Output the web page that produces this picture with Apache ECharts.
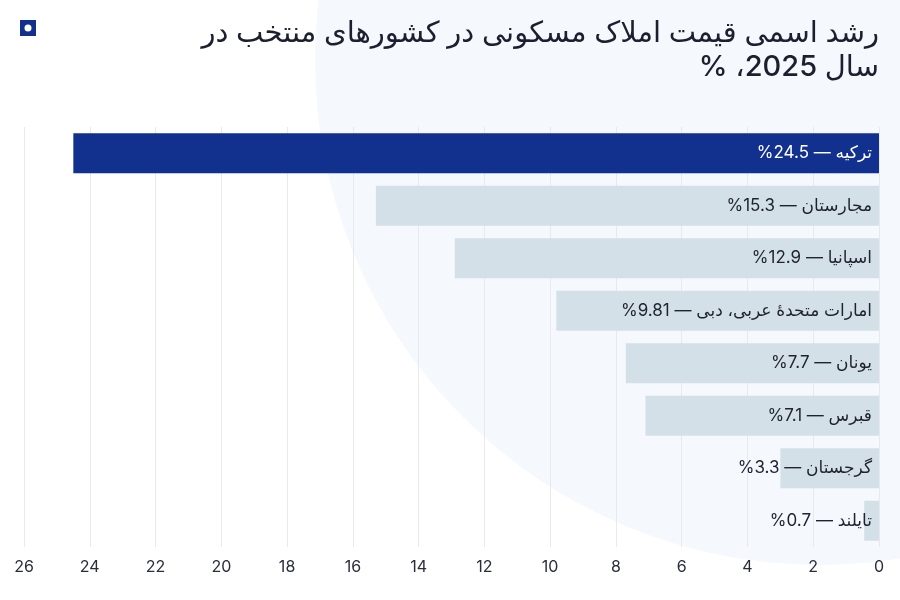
<!DOCTYPE html>
<html>
<head>
<meta charset="utf-8">
<script src="https://cdn.jsdelivr.net/npm/echarts@6/dist/echarts.min.js"></script>
<style>
  html, body { margin: 0; padding: 0; background: #fff; }
  #chart { width: 900px; height: 600px; direction: rtl; }
</style>
</head>
<body>
<div id="chart"></div>
<script>
// کشورها (از بالا به پایین)
const countries = ['ترکیه', 'مجارستان', 'اسپانیا', 'امارات متحدهٔ عربی، دبی', 'یونان', 'قبرس', 'گرجستان', 'تایلند']
// طول میله‌ها، خوانده شده از تصویر
const barValues = [24.5, 15.3, 12.9, 9.81, 7.7, 7.1, 3.0, 0.45]
// اعداد نوشته شده روی میله‌ها
const labelValues = ['24.5', '15.3', '12.9', '9.81', '7.7', '7.1', '3.3', '0.7']
const titleLines = ['رشد اسمی قیمت املاک مسکونی در کشورهای منتخب در', 'سال 2025، %']

const font = 'Inter, "DejaVu Sans", sans-serif'
const dom = document.getElementById('chart')
const chart = echarts.init(dom)

const option = {
  backgroundColor: '#ffffff',
  animation: false,
  graphic: [
    {
      type: 'circle',
      z: -10,
      silent: true,
      shape: { cx: 820, cy: 60, r: 505 },
      style: { fill: '#f5f8fc' }
    },
    {
      type: 'rect',
      shape: { x: 20, y: 20, width: 16, height: 16 },
      style: { fill: '#12318f' }
    },
    {
      type: 'circle',
      shape: { cx: 28, cy: 28, r: 3.5 },
      style: { fill: '#ffffff' }
    },
    {
      type: 'text',
      x: 879,
      y: 19,
      style: {
        text: titleLines[0],
        align: 'right',
        verticalAlign: 'top',
        fontFamily: font,
        fontSize: 29,
        fontWeight: 500,
        fill: '#1b1f2e'
      }
    },
    {
      type: 'text',
      x: 879,
      y: 53,
      style: {
        text: titleLines[1],
        align: 'right',
        verticalAlign: 'top',
        fontFamily: font,
        fontSize: 29,
        fontWeight: 500,
        fill: '#1b1f2e'
      }
    }
  ],
  grid: {
    left: 24,
    right: 21,
    top: 127,
    bottom: 53,
    containLabel: false
  },
  xAxis: {
    type: 'value',
    inverse: true,
    min: 0,
    max: 26,
    interval: 2,
    axisLine: { show: false },
    axisTick: { show: false },
    axisLabel: {
      margin: 12,
      fontFamily: font,
      fontSize: 16,
      color: '#2a2d3a'
    },
    splitLine: {
      show: true,
      lineStyle: { color: '#e6e9ee', width: 1 }
    }
  },
  yAxis: {
    type: 'category',
    inverse: true,
    data: countries,
    show: false
  },
  series: [
    {
      type: 'bar',
      barWidth: 40,
      data: barValues.map((v, i) => ({
        value: v,
        itemStyle: { color: i === 0 ? '#12318f' : '#d3e0e7' },
        label: { color: i === 0 ? '#ffffff' : '#1f2230' }
      })),
      label: {
        show: true,
        position: 'insideRight',
        distance: 7,
        fontFamily: font,
        fontSize: 17,
        formatter: (p) => countries[p.dataIndex] + ' — ' + labelValues[p.dataIndex] + '%'
      }
    }
  ]
}

chart.setOption(option)
</script>
</body>
</html>
